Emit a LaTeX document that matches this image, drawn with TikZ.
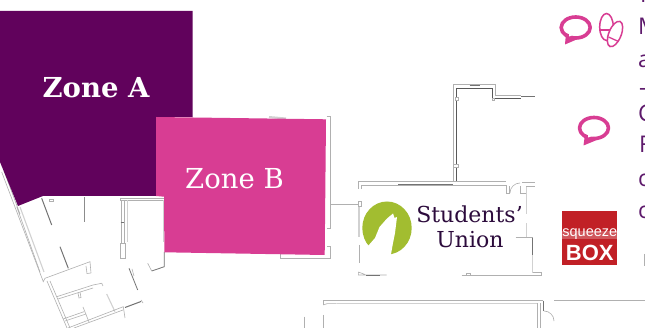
\documentclass[tikz,border=0pt]{standalone}
\usepackage{fontspec}
\setmainfont{DejaVu Serif}
\newfontfamily\bodyfont{Open Sans}
\newfontfamily\sqfont{Liberation Sans}
\definecolor{zonea}{HTML}{61025C}
\definecolor{zoneb}{HTML}{D83D93}
\definecolor{unionink}{HTML}{2C0B3C}
\definecolor{wolfgreen}{HTML}{A2BD30}
\definecolor{sqred}{HTML}{C12026}
\definecolor{bodyink}{HTML}{5E1A6C}
\definecolor{wallgrey}{HTML}{B0B0B0}
\tikzset{
  wall/.style={draw=wallgrey,line width=0.6pt},
  lightwall/.style={draw=black!18,line width=1.1pt},
  darkwall/.style={draw=black!55,line width=1pt},
  zonelabel/.style={text=white,inner sep=0pt,anchor=center},
  unionlabel/.style={text=unionink,inner sep=0pt,anchor=center,font=\fontsize{22}{22}\selectfont},
  cliplabel/.style={text=bodyink,inner sep=0pt,anchor=base west,font=\bodyfont\fontsize{23}{23}\selectfont},
  bubble/.style={draw=zoneb,line width=3.6pt,fill=white,line join=round},
  foot/.style={draw=zoneb,line width=1.5pt,fill=white},
}
\begin{document}
\begin{tikzpicture}[x=1pt,y=-1pt]
\useasboundingbox (0,0) rectangle (645,328);
\fill[white] (0,0) rectangle (645,328);
\begin{scope}
\clip (0,0) rectangle (645,328);
% --- lower-left rooms
\draw[wall] (1.7,172) -- (43.3,281.7) -- (45,278.3) -- (90,261.7) -- (91,273) (86,266) -- (87,273.5) -- (91,273);
\draw[wall] (4,171) -- (20,214) (16.7,206.7) -- (40,272);
\draw[lightwall] (20,207) -- (44,272);
\draw[wall] (47,281) -- (67,328) (50,281) -- (70,328);
\draw[darkwall] (41.7,198.3) -- (51.7,225);
\draw[darkwall,draw=black!45] (84.7,197.3) -- (84.7,221.7);
\draw[darkwall] (60,246.7) -- (68.3,268.3);
\draw[wall] (49,201) rectangle (53,199);
\draw[wall] (56.7,296.7) -- (93,285) -- (101.7,283.3) -- (103,286);
\draw[wall] (58,299) -- (93,288);
\draw[wall] (78,293) -- (79,298) -- (81,297.5) -- (80,292);
\draw[lightwall] (106.7,294) -- (115,311.7);
\draw[wall] (68,328) -- (123.3,306.7) -- (125,318);
\draw[wall] (74,328) -- (123,310);
\draw[darkwall] (125,307.5) -- (141,301.5);
\draw[wall] (141,300) -- (143,303);
\draw[wall] (63,319) -- (84,311.7) (65,321) -- (86,314);
\draw[wall] (83,307) -- (89,322);
\draw[darkwall,line width=.8pt] (129,268.3) -- (137.7,290);
\draw[wall] (132,269) -- (134,276);
% --- room right of zone A
\draw[wall] (120,198) rectangle (164,200.5);
\draw[wall] (121,200.5) -- (121,243) (124.5,200.5) -- (124.5,243);
\draw[lightwall] (127.5,200.5) -- (127.5,242);
\draw[wall] (120.5,243) rectangle (125,258);
\draw[darkwall,line width=.6pt] (120.5,222) -- (124,222);
\draw[lightwall] (163.3,200) -- (163.3,242);
\draw[darkwall,line width=.8pt] (164.3,252) -- (164.3,266.7) -- (151.7,271);
\draw[wall] (151.7,271) -- (147.7,263.3);
% --- round zone B
\draw[wall] (280.3,254) -- (280.3,258.3) -- (330,258.3) -- (330,246.7) -- (326.7,246.7);
\draw[wall] (326.7,116.7) -- (330,116.7) -- (330,228.3) -- (326.7,228.3);
\draw[wall] (330,204) -- (358,204);
\draw[lightwall,line width=2pt] (269,117) -- (286,118.5);
% --- zones
\fill[zonea] (0,11) -- (192.7,11) -- (192.7,117) -- (156,117) -- (156,196) -- (43,196) -- (18,206) -- (0,162) -- cycle;
\fill[zoneb] (156,117) -- (326,119.3) -- (324.7,255) -- (164.4,252.3) -- (164,196.7) -- (156,196) -- cycle;
% --- students' union building
\draw[wall] (453.3,181.7) -- (453.3,84.3) -- (495.7,84.3) -- (495.7,95) -- (521,95);
\draw[wall,draw=black!65] (456,181.7) -- (456,88.3) -- (492.3,88.3) -- (492.3,98.3) -- (521,98.3);
\draw[darkwall,line width=1.2pt] (521,96.6) -- (535,96.6);
\draw[darkwall,line width=1pt] (469.5,85.8) -- (479.5,85.8);
\draw[wall,fill=white] (455,97) rectangle (458.5,100.5);
\draw[wall,fill=white] (453.5,164) rectangle (458,167);
\draw[wall,fill=white] (492,98) rectangle (494.5,100.5);
\draw[wall] (361.7,189) -- (361.7,185) -- (506,185) -- (506,193);
\draw[wall] (358.3,189) -- (358.3,181.7) -- (506,181.7);
\draw[darkwall,line width=.6pt] (398,184.5) -- (453,184.5);
\draw[wall] (506,193) -- (509,193) -- (509,186);
\draw[wall] (510,193) arc[start angle=180,end angle=270,radius=10];
\draw[wall] (520,186) -- (520,193) -- (526.7,193) -- (526.7,186) -- (535,186);
\draw[wall] (522,182) -- (535,182);
\draw[wall,fill=white] (358.3,201) rectangle (361.7,206.5);
\draw[wall] (340,204) -- (358.3,204);
\draw[lightwall] (359,207) -- (359,236.7);
\draw[wall] (359,245) -- (359,262.7);
\draw[wall] (358.3,272) -- (358.3,275) -- (386.7,275) (358.3,272) -- (365,274.5);
\draw[darkwall,line width=.6pt] (366,275) -- (380,275);
\draw[wall] (461.7,275) -- (541.7,275) -- (541.7,272.5) -- (531.7,272.5);
\draw[wall] (466,275) -- (466,273) -- (470,273) -- (470,275);
\draw[lightwall] (526.7,187) -- (526.7,214) (526.7,223.3) -- (526.7,236.7);
\draw[wall] (515.7,237.7) -- (533.3,237.7);
\draw[darkwall,line width=.8pt] (532.7,237.7) -- (532.7,255);
\draw[lightwall] (532.7,255) -- (532.7,273);
% --- lower building
\draw[wall] (323.3,305) -- (323.3,300.7) -- (543.3,300.7);
\draw[wall] (323.3,305) -- (327,303.7) -- (336.7,303.7);
\draw[lightwall] (337,303.7) -- (536.7,303.7);
\draw[wall] (323.3,315) -- (323.3,328);
\draw[wall] (304.3,316.7) -- (304.3,328);
\draw[wall] (537.3,303.3) -- (537.3,328) (540.7,303.3) -- (540.7,328);
\draw[wall,draw=black!55] (543.3,300.7) -- (543.3,311);
\draw[wall] (544,311) arc[start angle=270,end angle=360,radius=10];
\draw[wall] (554,300.7) -- (645,300.7);
\draw[wall] (644.3,254) -- (644.3,266);
% --- right hand text, cut by the edge
\node[cliplabel] (t0) at (640,3) {I};
\node[cliplabel] (t1) at (638,35) {M};
\node[cliplabel] (t2) at (638,68) {a};
\node[cliplabel] (t3) at (639,96) {–};
\node[cliplabel] (t4) at (638,122) {C};
\node[cliplabel] (t5) at (639,153) {F};
\node[cliplabel] (t6) at (638,187) {c};
\node[cliplabel] (t7) at (638,219) {c};
\end{scope}
% --- zone labels
\node[zonelabel,font=\fontsize{27.5}{27.5}\selectfont\bfseries] (za) at (96,88) {Zone A};
\node[zonelabel,font=\fontsize{27.5}{27.5}\selectfont] (zb) at (234.5,179) {Zone B};
% --- logo
\fill[wolfgreen] (387,228) ellipse[x radius=24.7,y radius=26.5];
\fill[white] (368,246) -- (375,238) -- (379.5,227) -- (387,218.5) -- (393,213.5) -- (394.5,218) -- (397,217) -- (395,233) -- (393,243) -- (390.5,257) -- (368,257) -- cycle;
\node[unionlabel] (su1) at (469.5,214) {Students’};
\node[unionlabel] (su2) at (470,240) {Union};
% --- speech bubbles and footprints
\draw[bubble] (575.7,27.5) ellipse[x radius=14.5,y radius=10.5];
\fill[zoneb] (566,33) -- (565,44.5) -- (579,38.5) -- cycle;
\draw[bubble] (594,128) ellipse[x radius=14.5,y radius=10.5];
\fill[zoneb] (585,134) -- (583.5,145.5) -- (598,139.5) -- cycle;
\fill[white] (569,33) -- (569,36.5) -- (574,35) -- cycle;
\fill[white] (588,133.5) -- (588,137.5) -- (593,136) -- cycle;
\draw[foot] (606.5,27) ellipse[x radius=6.8,y radius=13.5];
\draw[zoneb,line width=1.3pt] (600,30) -- (613,30);
\draw[foot,rotate around={-22:(615,34)}] (615,34) ellipse[x radius=6.2,y radius=13.5];
\draw[zoneb,line width=1.3pt] (608.5,37) -- (618.5,41.5);
% --- squeezebox
\fill[sqred] (562.3,211) rectangle (617.3,264.7);
\fill[white,opacity=.25] (562.3,231) rectangle (617.3,239.5);
\node[inner sep=0pt,text=white,font=\sqfont\fontsize{14.5}{14.5}\selectfont] (sq) at (589.8,234.5) {squeeze};
\node[inner sep=0pt,text=white,font=\sqfont\fontsize{22}{22}\selectfont\bfseries] (bx) at (589.8,253) {BOX};
\end{tikzpicture}
\end{document}
